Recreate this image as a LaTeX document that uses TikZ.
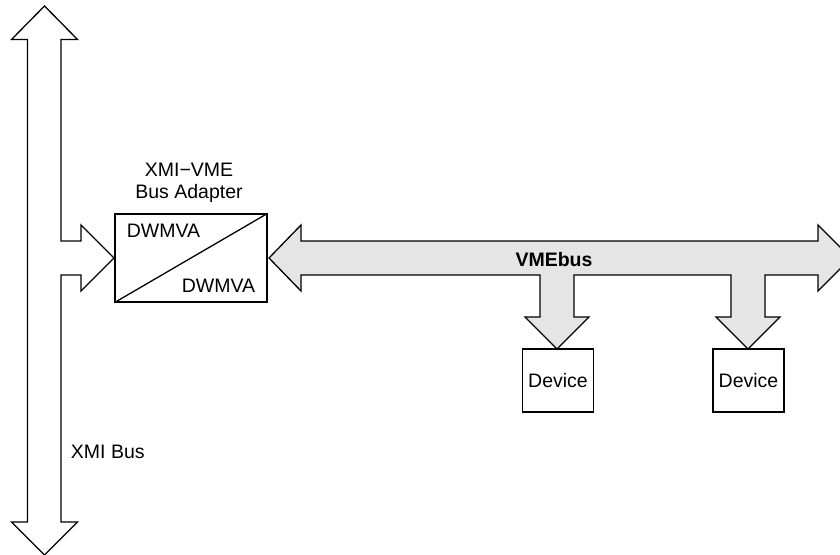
\documentclass[tikz,border=0pt]{standalone}
\usepackage{fontspec}
\setmainfont{Liberation Sans}
\begin{document}
\begin{tikzpicture}[x=1pt, y=-1pt, line width=1.3pt, line join=miter,
    font=\fontsize{19.5}{21.5}\selectfont,
    box/.style={draw, inner sep=0pt}]
    \clip (0,0) rectangle (840,554);

    % XMI bus with branch into the adapter
    \draw (44.5,6) -- (77.5,39.5) -- (61,39.5) -- (61,241) -- (81,241) -- (81,225)
        -- (114,258) -- (81,291) -- (81,275) -- (61,275) -- (61,522)
        -- (77.5,522) -- (44.5,555) -- (11.5,522) -- (27.5,522)
        -- (27.5,39.5) -- (11.5,39.5) -- cycle;
    \node[anchor=west] (xmi) at (67,452) {XMI Bus};

    % Adapter box
    \node[box, minimum width=152pt, minimum height=88pt] (adapter) at (191,258) {};
    \draw (adapter.south west) -- (adapter.north east);
    \node (dwtop) at (163.5,231) {DWMVA};
    \node (dwbot) at (218.5,286) {DWMVA};
    \node[align=center, anchor=south, inner sep=0pt] (title) at (189,203) {XMI\textminus VME\\Bus Adapter};

    % VMEbus with two branches down to the devices
    \draw[fill=black!10] (269,258) -- (301,225) -- (301,241) -- (818,241) -- (818,225)
        -- (851,258) -- (818,291) -- (818,275) -- (765,275) -- (765,317)
        -- (780,317) -- (748,349) -- (716,317) -- (731,317) -- (731,275)
        -- (574,275) -- (574,317) -- (589,317) -- (557,349) -- (525,317)
        -- (540,317) -- (540,275) -- (301,275) -- (301,291) -- cycle;
    \node[font=\fontsize{19.5}{21.5}\selectfont\bfseries] (vme) at (554,260) {VMEbus};

    % Devices
    \node[box, minimum width=71pt, minimum height=63pt] (dev1) at (558,380.5) {Device};
    \node[box, minimum width=71pt, minimum height=63pt] (dev2) at (748.5,380.5) {Device};
\end{tikzpicture}
\end{document}
